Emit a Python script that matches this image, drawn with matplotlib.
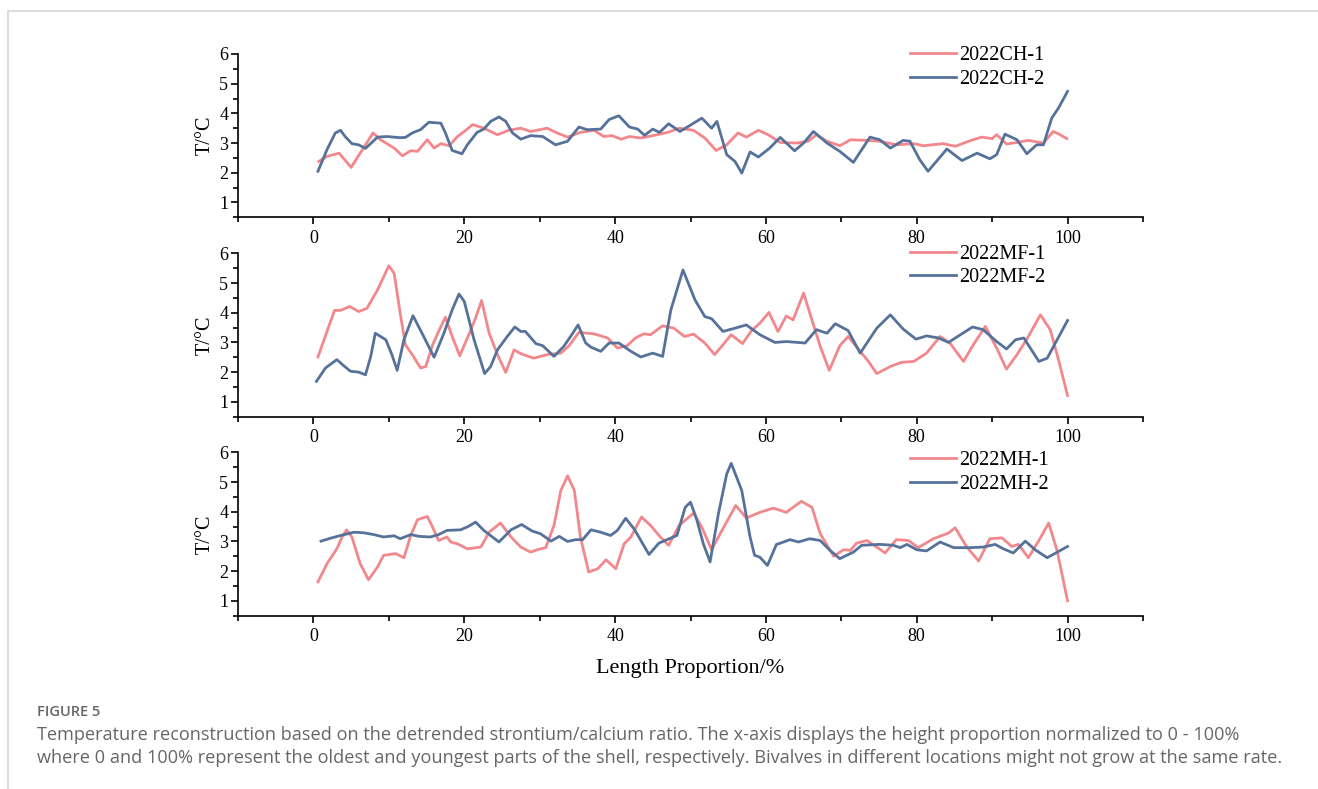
import matplotlib
matplotlib.use('Agg')
import matplotlib.pyplot as plt
from matplotlib.lines import Line2D
from matplotlib.ticker import MultipleLocator

plt.rcParams['font.family'] = ['Liberation Serif', 'DejaVu Serif']

PINK = '#f2878c'
BLUE = '#56729a'

# 2022CH panel
ch1_x = [0.7, 1.8, 3.4, 5.0, 6.2, 7.9, 8.9, 10.7, 11.8, 12.9, 13.8, 15.1, 16.0, 16.9, 18.0,
         19.1, 20.0, 21.1, 22.6, 24.4, 25.9, 27.5, 28.8, 31.0, 32.3, 33.7, 35.4, 37.2, 38.5,
         39.6, 40.8, 41.9, 43.4, 45.2, 47.0, 48.5, 50.4, 51.9, 53.4, 54.8, 56.3, 57.4, 59.0,
         60.3, 61.9, 64.1, 65.6, 66.7, 68.1, 69.8, 71.2, 73.4, 75.1, 77.3, 79.6, 80.9, 83.5,
         85.1, 87.1, 88.6, 90.0, 90.6, 91.9, 93.3, 94.8, 96.8, 98.1, 98.8, 99.9]
ch1_y = [2.38, 2.55, 2.66, 2.18, 2.66, 3.34, 3.11, 2.83, 2.57, 2.74, 2.72, 3.11, 2.83, 2.98, 2.91,
         3.22, 3.39, 3.62, 3.5, 3.28, 3.43, 3.5, 3.39, 3.5, 3.34, 3.2, 3.36, 3.43, 3.22,
         3.25, 3.13, 3.22, 3.17, 3.26, 3.36, 3.5, 3.43, 3.17, 2.75, 2.94, 3.34, 3.2, 3.43,
         3.28, 3.02, 3.0, 3.06, 3.28, 3.06, 2.91, 3.11, 3.09, 3.06, 2.94, 2.98, 2.91, 2.98,
         2.89, 3.08, 3.2, 3.15, 3.28, 2.97, 3.02, 3.09, 3.0, 3.39, 3.31, 3.15]
ch2_x = [0.6, 1.8, 2.9, 3.6, 4.2, 5.1, 6.0, 6.9, 8.5, 9.8, 11.5, 12.2, 13.1, 14.2, 15.3, 16.9,
         17.5, 18.4, 19.7, 20.4, 21.7, 22.6, 23.5, 24.6, 25.5, 26.4, 27.5, 28.8, 30.4, 32.1,
         33.7, 35.2, 36.3, 38.1, 39.2, 40.5, 41.9, 43.0, 43.9, 45.0, 45.9, 47.1, 48.6, 50.1,
         51.5, 52.8, 53.5, 54.8, 55.9, 56.8, 57.9, 59.0, 60.5, 61.9, 63.8, 65.0, 66.3, 68.1,
         69.8, 71.6, 73.8, 75.1, 76.5, 78.2, 79.1, 80.4, 81.5, 84.0, 86.0, 88.0, 89.7, 90.6,
         91.7, 93.3, 94.6, 95.9, 96.8, 97.9, 98.8, 100.0]
ch2_y = [2.05, 2.78, 3.34, 3.43, 3.22, 2.98, 2.94, 2.82, 3.2, 3.22, 3.18, 3.19, 3.34, 3.45, 3.7, 3.67,
         3.34, 2.75, 2.64, 2.94, 3.36, 3.47, 3.73, 3.88, 3.73, 3.34, 3.13, 3.25, 3.22, 2.94,
         3.06, 3.54, 3.45, 3.47, 3.79, 3.92, 3.54, 3.47, 3.26, 3.47, 3.36, 3.65, 3.39, 3.62,
         3.84, 3.5, 3.73, 2.61, 2.38, 1.99, 2.7, 2.53, 2.83, 3.19, 2.74, 3.0, 3.39, 3.0,
         2.72, 2.35, 3.2, 3.11, 2.83, 3.09, 3.06, 2.44, 2.05, 2.8, 2.41, 2.66, 2.47, 2.61,
         3.3, 3.11, 2.64, 2.94, 2.94, 3.84, 4.18, 4.74]

# 2022MF panel
mf1_x = [0.6, 1.8, 2.8, 3.6, 4.8, 6.0, 7.1, 8.5, 10.0, 10.7, 11.5, 12.2, 13.1, 14.2, 14.9, 15.8,
         16.6, 17.5, 18.4, 19.4, 20.6, 21.5, 22.3, 23.3, 24.4, 25.5, 26.6, 27.5, 29.2, 31.0,
         32.8, 33.9, 35.2, 37.2, 39.0, 40.3, 41.6, 42.7, 43.8, 44.7, 46.3, 47.8, 49.2, 50.4,
         51.9, 53.2, 54.3, 55.4, 56.9, 58.1, 59.2, 60.4, 61.6, 62.7, 63.6, 65.0, 66.1, 67.2,
         68.4, 69.8, 70.9, 72.5, 73.6, 74.7, 76.5, 78.0, 79.6, 81.3, 83.1, 84.4, 86.2, 87.5,
         89.1, 90.6, 91.9, 93.3, 94.6, 96.4, 97.7, 98.8, 100.0]
mf1_y = [2.51, 3.37, 4.08, 4.08, 4.21, 4.04, 4.15, 4.77, 5.58, 5.33, 3.99, 2.92, 2.59, 2.14, 2.19, 2.92,
         3.37, 3.85, 3.2, 2.55, 3.26, 3.82, 4.41, 3.31, 2.59, 1.99, 2.75, 2.62, 2.47, 2.59,
         2.64, 2.89, 3.34, 3.29, 3.15, 2.81, 2.89, 3.15, 3.29, 3.26, 3.56, 3.48, 3.2, 3.28,
         2.98, 2.59, 2.92, 3.26, 2.96, 3.4, 3.65, 4.01, 3.37, 3.89, 3.76, 4.66, 3.76, 2.87,
         2.06, 2.89, 3.2, 2.7, 2.36, 1.95, 2.19, 2.33, 2.36, 2.64, 3.2, 2.98, 2.36, 2.92,
         3.54, 2.81, 2.1, 2.59, 3.11, 3.93, 3.43, 2.42, 1.21]
mf2_x = [0.4, 1.6, 3.1, 4.0, 4.9, 6.0, 6.9, 7.6, 8.2, 9.6, 10.4, 11.1, 12.0, 13.2, 14.4, 16.0,
         17.3, 18.4, 19.3, 20.0, 21.3, 22.7, 23.5, 24.4, 25.7, 26.7, 27.5, 28.1, 29.5, 30.4,
         31.9, 33.2, 34.1, 35.1, 36.1, 36.8, 38.1, 39.2, 40.5, 42.1, 43.4, 45.0, 46.3, 47.4,
         49.0, 50.6, 51.9, 52.8, 54.3, 55.9, 57.4, 59.2, 61.2, 62.7, 65.2, 66.7, 68.1, 69.2,
         70.9, 72.5, 74.7, 76.5, 78.2, 79.9, 81.3, 82.9, 84.2, 85.8, 87.4, 88.8, 90.6, 91.9,
         93.1, 94.2, 96.2, 97.3, 100.0]
mf2_y = [1.69, 2.14, 2.42, 2.22, 2.03, 2.0, 1.91, 2.53, 3.31, 3.09, 2.59, 2.06, 3.09, 3.9, 3.31, 2.5,
         3.31, 4.1, 4.63, 4.38, 3.09, 1.95, 2.19, 2.75, 3.2, 3.52, 3.37, 3.37, 2.96, 2.89,
         2.53, 2.87, 3.2, 3.59, 2.98, 2.84, 2.7, 2.98, 2.98, 2.7, 2.51, 2.64, 2.53, 4.1,
         5.44, 4.43, 3.87, 3.8, 3.37, 3.48, 3.59, 3.26, 3.0, 3.03, 2.98, 3.43, 3.31, 3.63,
         3.4, 2.64, 3.48, 3.93, 3.45, 3.11, 3.22, 3.15, 3.0, 3.26, 3.52, 3.43, 3.03, 2.78,
         3.09, 3.15, 2.36, 2.47, 3.74]

# 2022MH panel
mh1_x = [0.6, 1.8, 3.1, 3.8, 4.4, 5.1, 6.2, 7.3, 8.5, 9.3, 10.9, 12.0, 12.9, 13.8, 15.1, 15.8,
         16.6, 17.7, 18.2, 19.1, 20.4, 22.2, 23.3, 24.8, 26.2, 27.5, 28.8, 29.7, 30.8, 31.9,
         32.8, 33.7, 34.6, 35.4, 36.5, 37.7, 38.8, 40.1, 41.2, 42.1, 43.5, 44.7, 46.0, 47.1,
         48.5, 50.4, 51.5, 52.8, 54.3, 56.0, 57.4, 59.2, 61.0, 62.7, 64.7, 66.1, 67.2, 69.0,
         70.3, 71.2, 72.0, 73.4, 74.7, 75.8, 77.3, 78.9, 80.2, 82.2, 84.2, 85.1, 86.6, 88.2,
         89.7, 91.3, 92.6, 93.5, 94.8, 96.2, 97.5, 98.6, 100.0]
mh1_y = [1.64, 2.25, 2.75, 3.15, 3.39, 3.15, 2.25, 1.71, 2.14, 2.53, 2.59, 2.45, 3.2, 3.73, 3.84, 3.48,
         3.03, 3.15, 2.98, 2.92, 2.75, 2.81, 3.31, 3.62, 3.15, 2.81, 2.64, 2.72, 2.79, 3.54,
         4.71, 5.21, 4.71, 3.15, 1.97, 2.08, 2.38, 2.08, 2.92, 3.15, 3.82, 3.54, 3.15, 2.87,
         3.54, 3.95, 3.48, 2.72, 3.43, 4.21, 3.79, 3.98, 4.12, 3.98, 4.35, 4.15, 3.26, 2.5,
         2.72, 2.7, 2.94, 3.03, 2.81, 2.61, 3.06, 3.03, 2.79, 3.09, 3.28, 3.46, 2.83, 2.34,
         3.09, 3.12, 2.83, 2.9, 2.45, 3.03, 3.62, 2.7, 1.0]
mh2_x = [1.0, 2.3, 3.6, 5.4, 6.7, 8.0, 9.3, 10.7, 11.5, 12.9, 14.0, 15.5, 16.6, 17.7, 19.5, 20.5,
         21.5, 22.6, 24.6, 26.2, 27.6, 29.0, 30.1, 31.5, 32.6, 33.7, 34.8, 35.7, 36.8, 38.1,
         39.4, 40.3, 41.4, 42.5, 44.5, 45.8, 46.9, 48.2, 49.3, 50.0, 50.8, 51.7, 52.6, 53.7,
         54.8, 55.4, 56.8, 57.9, 58.5, 59.2, 60.2, 61.4, 61.9, 63.2, 64.3, 65.8, 67.2, 68.5,
         69.8, 71.6, 72.7, 75.1, 76.9, 77.8, 78.7, 80.0, 81.3, 83.1, 84.9, 87.1, 88.8, 90.4,
         91.5, 92.8, 94.4, 95.7, 97.3, 100.0]
mh2_y = [3.01, 3.11, 3.2, 3.31, 3.29, 3.23, 3.15, 3.19, 3.09, 3.23, 3.17, 3.15, 3.23, 3.37, 3.39, 3.5,
         3.65, 3.37, 2.98, 3.39, 3.57, 3.35, 3.26, 3.01, 3.17, 3.0, 3.06, 3.06, 3.39, 3.31,
         3.2, 3.37, 3.78, 3.43, 2.56, 2.94, 3.06, 3.2, 4.15, 4.32, 3.76, 2.92, 2.31, 3.93,
         5.27, 5.63, 4.71, 3.15, 2.53, 2.47, 2.19, 2.9, 2.94, 3.06, 2.98, 3.09, 3.03, 2.7,
         2.42, 2.64, 2.87, 2.9, 2.87, 2.79, 2.9, 2.72, 2.68, 2.98, 2.79, 2.79, 2.81, 2.9,
         2.75, 2.61, 3.01, 2.72, 2.45, 2.83]

panels = [
    (ch1_x, ch1_y, ch2_x, ch2_y, ['2022CH-1', '2022CH-2'], 0.917),
    (mf1_x, mf1_y, mf2_x, mf2_y, ['2022MF-1', '2022MF-2'], 0.922),
    (mh1_x, mh1_y, mh2_x, mh2_y, ['2022MH-1', '2022MH-2'], 0.877),
]
x_ticks = [0, 20, 40, 60, 80, 100]
y_ticks = [1, 2, 3, 4, 5, 6]

fig = plt.figure(figsize=(13.18, 7.89), dpi=100)

# light grey frame like the journal page
fig.add_artist(Line2D([0.0061, 0.0061], [0, 0.9865], transform=fig.transFigure,
                      color='#dddddd', lw=1.5))
fig.add_artist(Line2D([0.0061, 1], [0.9865, 0.9865], transform=fig.transFigure,
                      color='#dddddd', lw=1.5))

bottoms = [0.7246, 0.4719, 0.2197]
for (xa, ya, xb, yb, names, leg_y), b in zip(panels, bottoms):
    ax = fig.add_axes([0.1806, b, 0.6866, 0.207])
    ax.plot(xa, ya, color=PINK, lw=2, label=names[0], solid_joinstyle='round')
    ax.plot(xb, yb, color=BLUE, lw=2, label=names[1], solid_joinstyle='round')
    ax.set_xlim(-10, 110)
    ax.set_ylim(0.5, 6)
    ax.set_xticks(x_ticks)
    ax.set_yticks(y_ticks)
    ax.xaxis.set_minor_locator(MultipleLocator(10))
    ax.yaxis.set_minor_locator(MultipleLocator(0.5))
    for s in ['top', 'right']:
        ax.spines[s].set_visible(False)
    for s in ['left', 'bottom']:
        ax.spines[s].set_linewidth(1.2)
    ax.tick_params(which='major', length=5, width=1.2, labelsize=13, pad=2)
    ax.tick_params(which='minor', length=3.5, width=1.2)
    ax.tick_params(axis='x', pad=4)
    ax.set_ylabel('T/°C', fontsize=14.5, labelpad=3)
    ax.legend(loc='center left', bbox_to_anchor=(0.7425, leg_y), frameon=False,
              fontsize=14.5, handlelength=2.3, handletextpad=0.15, labelspacing=0.22,
              borderpad=0, borderaxespad=0)
    last = ax

last.set_xlabel('Length Proportion/%', fontsize=16, labelpad=10)

fig.text(0.028, 0.097, 'FIGURE 5', family='Open Sans', fontsize=10.5, fontweight='semibold',
         color='#666666', va='center')
fig.text(0.028, 0.068, 'Temperature reconstruction based on the detrended strontium/calcium ratio. '
         'The x-axis displays the height proportion normalized to 0 - 100%',
         family='Open Sans', fontsize=13.1, color='#666666', va='center')
fig.text(0.028, 0.039, 'where 0 and 100% represent the oldest and youngest parts of the shell, '
         'respectively. Bivalves in different locations might not grow at the same rate.',
         family='Open Sans', fontsize=13.1, color='#666666', va='center')

fig.savefig('out.png', dpi=100)
